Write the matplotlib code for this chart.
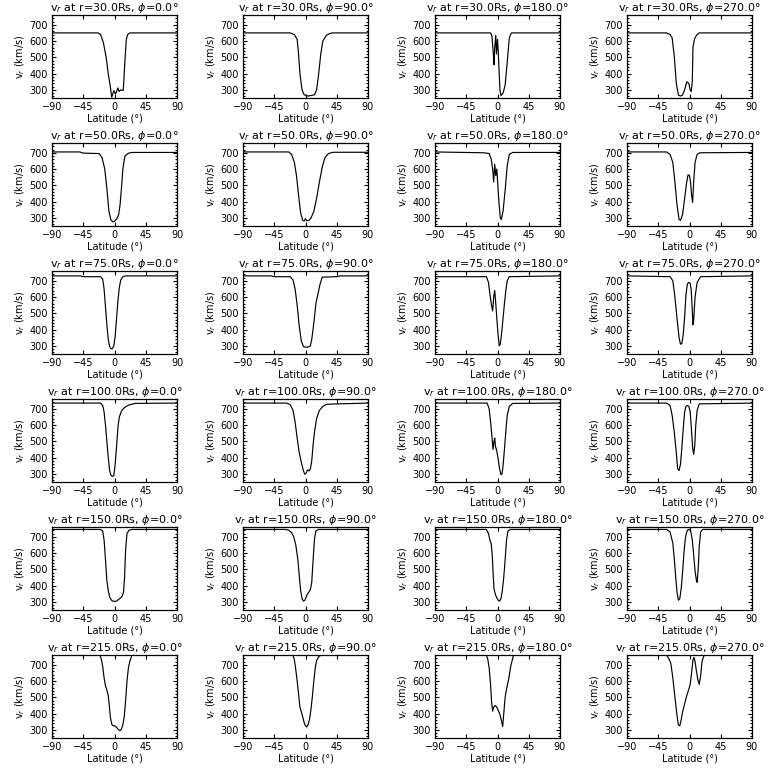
import matplotlib
matplotlib.use('Agg')
from matplotlib import pyplot as plt
from matplotlib.ticker import MultipleLocator

RADII = [30.0, 50.0, 75.0, 100.0, 150.0, 215.0]
PHIS = [0.0, 90.0, 180.0, 270.0]

# r = 30 Rs
LAT_30_0 = [-90, -24, -20, -16, -12, -9, -6, -4, -1, 1.5, 5, 6.5, 9, 12.5, 13.5, 15, 17, 19, 22, 90]
V_30_0 = [650, 650, 640, 590, 500, 400, 320, 255, 295, 275, 312, 290, 300, 296, 358, 480, 610, 640, 650, 650]
LAT_30_90 = [-90, -22, -16, -12, -10, -8, -5, -2, 3, 8, 13, 16, 19, 22, 25, 30, 36, 40, 90]
V_30_90 = [650, 650, 640, 610, 520, 400, 300, 270, 262, 265, 270, 300, 400, 520, 600, 635, 648, 650, 650]
LAT_30_180 = [-90, -10, -8, -6, -5, -4, -2.5, -1.5, 0, 1, 2, 3.5, 5, 8, 11, 14, 17, 20, 90]
V_30_180 = [650, 650, 630, 520, 455, 560, 635, 520, 610, 540, 440, 300, 265, 280, 330, 470, 620, 650, 650]
LAT_30_270 = [-90, -33, -28, -25, -22, -19, -16, -13, -10, -7, -4, -1, 1, 2.5, 4, 5, 7, 10, 14, 90]
V_30_270 = [650, 650, 640, 620, 510, 340, 268, 262, 268, 300, 350, 340, 300, 290, 350, 560, 610, 635, 650, 650]

# r = 50 Rs
LAT_50_0 = [-90, -50, -45, -22, -18, -14, -11, -8, -5, -2, 0, 3, 6, 8, 10, 12, 15, 20, 25, 90]
V_50_0 = [705, 705, 698, 695, 670, 600, 480, 340, 285, 275, 280, 292, 320, 380, 480, 600, 680, 697, 702, 702]
LAT_50_90 = [-90, -24, -20, -16, -13, -10, -7, -4, -2, 0, 2, 5, 8, 12, 16, 20, 24, 28, 33, 40, 90]
V_50_90 = [705, 705, 690, 640, 560, 440, 330, 285, 280, 295, 282, 285, 300, 340, 420, 520, 610, 670, 695, 703, 703]
LAT_50_180 = [-90, -20, -12, -9, -7, -5.5, -4, -2.5, -1, 0.5, 2, 4, 5.5, 8, 11, 14, 17, 22, 90]
V_50_180 = [705, 700, 695, 660, 600, 520, 630, 560, 600, 500, 400, 300, 290, 340, 470, 620, 690, 702, 702]
LAT_50_270 = [-90, -33, -28, -24, -21, -18, -15, -13, -10, -7, -4, -2, 0, 1.5, 3, 4.5, 6, 8, 11, 15, 90]
V_50_270 = [705, 705, 690, 640, 520, 380, 290, 285, 320, 420, 520, 565, 560, 520, 440, 395, 520, 640, 690, 700, 702]

# r = 75 Rs
LAT_75_0 = [-90, -50, -45, -20, -17, -15, -13, -11, -9, -7, -5, -3, -1, 1, 3, 5, 7, 9, 12, 16, 90]
V_75_0 = [730, 730, 725, 725, 710, 650, 540, 430, 340, 295, 282, 283, 300, 360, 470, 580, 660, 705, 725, 730, 730]
LAT_75_90 = [-90, -50, -45, -22, -18, -15, -12, -9, -6, -3, 0, 4, 7, 9, 12, 15, 18, 21, 24, 45, 50, 90]
V_75_90 = [730, 730, 725, 725, 705, 650, 550, 420, 330, 295, 292, 293, 300, 340, 440, 560, 620, 680, 722, 725, 730, 730]
LAT_75_180 = [-90, -16, -13, -11, -9, -7, -5.5, -4, -2.5, -1, 1, 2.5, 4, 6, 8, 10, 12, 14, 17, 90]
V_75_180 = [725, 725, 690, 620, 560, 515, 600, 640, 560, 470, 360, 300, 310, 380, 470, 560, 640, 700, 725, 730]
LAT_75_270 = [-90, -28, -24, -21, -18, -15, -13, -11, -9, -7, -5, -3, -1, 1, 2.5, 4, 5, 6, 8, 11, 16, 90]
V_75_270 = [730, 725, 700, 600, 470, 350, 310, 315, 370, 480, 620, 680, 690, 685, 640, 520, 430, 460, 600, 690, 725, 730]

# r = 100 Rs
LAT_100_0 = [-90, -20, -17, -15, -13, -11, -9, -7, -5, -3, -1, 1, 3, 5, 7, 10, 13, 17, 22, 30, 90]
V_100_0 = [735, 735, 720, 680, 600, 500, 400, 320, 290, 284, 290, 360, 470, 590, 650, 685, 702, 715, 725, 733, 735]
LAT_100_90 = [-90, -27, -22, -18, -15, -12, -9, -6, -3, -1, 1, 3, 5, 7, 9, 11, 13, 16, 20, 25, 31, 90]
V_100_90 = [735, 735, 725, 690, 620, 520, 430, 370, 320, 297, 305, 325, 318, 330, 380, 480, 560, 640, 690, 715, 728, 735]
LAT_100_180 = [-90, -15, -12, -10, -8, -6.5, -5, -4, -3, -1, 1, 3, 5, 6.5, 8, 10, 12, 14, 17, 22, 90]
V_100_180 = [735, 735, 700, 620, 530, 450, 500, 520, 470, 440, 390, 330, 295, 300, 350, 450, 560, 660, 715, 733, 735]
LAT_100_270 = [-90, -33, -28, -25, -22, -19, -17, -15, -13, -11, -9, -7, -5, -3, -1, 1, 3, 4.5, 6, 7.5, 9, 11, 14, 90]
V_100_270 = [735, 735, 720, 660, 560, 430, 330, 320, 360, 460, 580, 680, 715, 720, 715, 680, 560, 460, 420, 470, 600, 690, 730, 735]

# r = 150 Rs
LAT_150_0 = [-90, -20, -17, -15, -13, -11, -9, -7, -4, 0, 3, 6, 9, 11, 13, 14.5, 16, 18, 21, 25, 90]
V_150_0 = [745, 745, 735, 680, 560, 430, 370, 330, 308, 302, 305, 315, 325, 335, 360, 450, 620, 720, 740, 745, 745]
LAT_150_90 = [-90, -28, -24, -20, -17, -14, -11, -9, -7, -5, -3, -1, 1, 3, 5, 7, 9, 11, 13, 15, 18, 90]
V_150_90 = [745, 745, 740, 725, 700, 650, 560, 460, 370, 320, 305, 310, 330, 350, 360, 375, 420, 560, 690, 735, 745, 745]
LAT_150_180 = [-90, -16, -13, -11, -9, -7.5, -6, -5, -3, -1, 1, 3, 5, 7, 9, 11, 13, 15, 18, 90]
V_150_180 = [745, 745, 720, 680, 655, 580, 450, 380, 345, 325, 310, 305, 320, 370, 450, 560, 680, 735, 745, 745]
LAT_150_270 = [-90, -33, -28, -24, -22, -20, -18, -16, -14, -12, -10, -8, -6, -4, -2, 0, 2, 4, 6, 8, 10, 11, 12.5, 14, 16, 19, 90]
V_150_270 = [745, 745, 730, 660, 570, 460, 360, 310, 320, 380, 480, 600, 690, 730, 745, 745, 730, 680, 590, 490, 430, 420, 500, 640, 730, 745, 745]

# r = 215 Rs
LAT_215_0 = [-90, -21, -19, -17, -15, -13, -11, -9, -7.5, -6, -4, -2, 0, 2, 4, 6, 8, 10, 12, 14, 16, 18, 20, 22, 25, 90]
V_215_0 = [758, 758, 735, 690, 620, 570, 545, 510, 450, 380, 335, 325, 325, 320, 310, 300, 295, 305, 330, 380, 480, 600, 680, 720, 758, 758]
LAT_215_90 = [-90, -18, -16, -14, -12, -10, -8, -6, -4, -2, 0, 2, 4, 6, 8, 10, 12, 14, 16, 19, 22, 90]
V_215_90 = [758, 758, 730, 670, 600, 520, 440, 410, 380, 345, 325, 318, 335, 370, 430, 510, 600, 680, 725, 750, 758, 758]
LAT_215_180 = [-90, -16, -14, -12, -10, -8.5, -7, -5.5, -3.5, -1, 1, 3.5, 5.5, 7.5, 9, 11, 13, 16, 19, 23, 90]
V_215_180 = [758, 758, 735, 680, 580, 470, 415, 440, 450, 440, 420, 395, 360, 320, 400, 500, 550, 610, 690, 758, 758]
LAT_215_270 = [-90, -33, -30, -27, -24, -21, -18, -16, -14, -12, -10, -7, -4, -1, 1, 3, 5, 6.5, 8, 10, 12, 14, 16, 18, 21, 90]
V_215_270 = [758, 758, 740, 710, 620, 500, 390, 330, 325, 360, 410, 460, 510, 550, 580, 650, 730, 745, 720, 660, 610, 580, 630, 720, 758, 758]

PANELS = [
    [(LAT_30_0, V_30_0), (LAT_30_90, V_30_90), (LAT_30_180, V_30_180), (LAT_30_270, V_30_270)],
    [(LAT_50_0, V_50_0), (LAT_50_90, V_50_90), (LAT_50_180, V_50_180), (LAT_50_270, V_50_270)],
    [(LAT_75_0, V_75_0), (LAT_75_90, V_75_90), (LAT_75_180, V_75_180), (LAT_75_270, V_75_270)],
    [(LAT_100_0, V_100_0), (LAT_100_90, V_100_90), (LAT_100_180, V_100_180), (LAT_100_270, V_100_270)],
    [(LAT_150_0, V_150_0), (LAT_150_90, V_150_90), (LAT_150_180, V_150_180), (LAT_150_270, V_150_270)],
    [(LAT_215_0, V_215_0), (LAT_215_90, V_215_90), (LAT_215_180, V_215_180), (LAT_215_270, V_215_270)],
]

COL_LEFT = [52, 243, 435, 627]
ROW_TOP = [15, 143, 271, 399, 527, 655]
AX_W = 125
AX_H = 83
SIZE = 768.0


def style_axes(ax):

    ax.set_xlim(-90, 90)
    ax.set_ylim(250, 760)
    ax.set_xticks([-90, -45, 0, 45, 90])
    ax.set_yticks([300, 400, 500, 600, 700])
    ax.yaxis.set_minor_locator(MultipleLocator(20))
    ax.tick_params(which='both', direction='in', top=True, right=True,
                   labelsize=7, width=0.8, pad=3)
    ax.tick_params(which='major', length=3)
    ax.tick_params(which='minor', length=1.5)
    for sp in ax.spines.values():
        sp.set_linewidth(0.9)


def main():

    fig = plt.figure(figsize=(7.68, 7.68), dpi=100)
    for i, r in enumerate(RADII):
        for j, phi in enumerate(PHIS):
            rect = [COL_LEFT[j] / SIZE, 1 - (ROW_TOP[i] + AX_H) / SIZE,
                    AX_W / SIZE, AX_H / SIZE]
            ax = fig.add_axes(rect)
            lat, v = PANELS[i][j]
            ax.plot(lat, v, color='black', lw=0.85)
            style_axes(ax)
            ax.set_title('v$_r$ at r={:.1f}Rs, $\\phi$={:.1f}\u00b0'.format(r, phi),
                         fontsize=8, pad=2)
            ax.set_xlabel('Latitude (\u00b0)', fontsize=7, labelpad=1)
            ax.set_ylabel('v$_r$ (km/s)', fontsize=7, labelpad=2)
    fig.savefig('out.png', dpi=100)


if __name__ == '__main__':

    main()
